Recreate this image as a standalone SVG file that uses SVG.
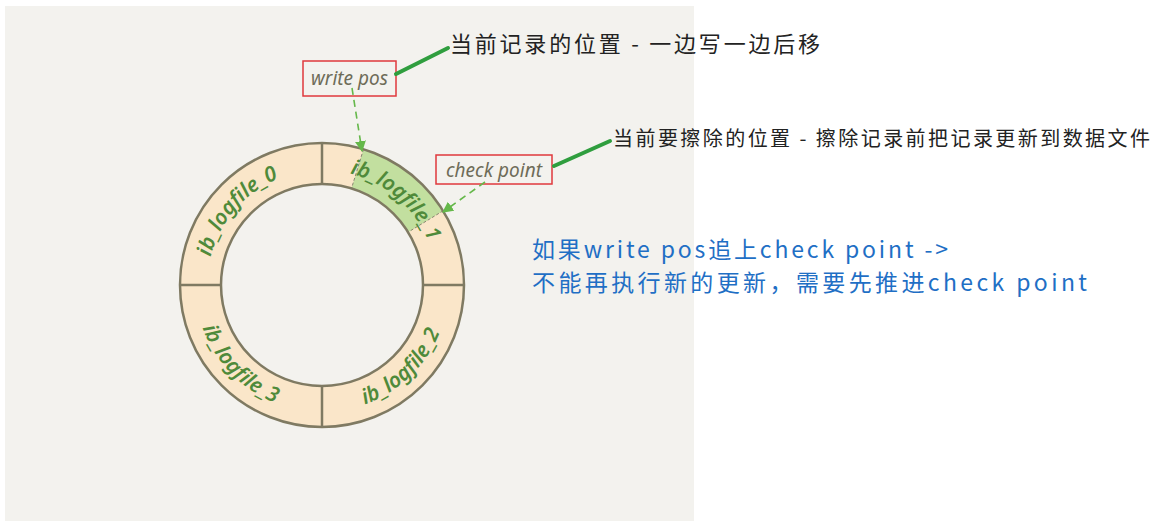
<svg xmlns="http://www.w3.org/2000/svg" width="1173" height="526" viewBox="0 0 1173 526">
<style>
.lbl{font-family:"Noto Sans","DejaVu Sans",sans-serif;font-size:21px;font-weight:600;fill:#4f8a3a;font-style:italic}
.box{fill:none;stroke:#e0393c;stroke-width:1.5}
.boxtxt{font-family:"Noto Sans","DejaVu Sans",sans-serif;font-size:19px;fill:#6e6c58;font-style:italic}
.note{font-family:"Noto Sans CJK SC","Noto Sans",sans-serif;fill:#222}
.blue{font-family:"Noto Sans CJK SC","Noto Sans",sans-serif;font-size:23px;fill:#1f6fc5}
.lead{stroke:#2f9e3e;stroke-width:4;stroke-linecap:round;fill:none}
.dash{stroke:#65b84a;stroke-width:1.6;stroke-dasharray:7 5;fill:none}
.ring{stroke:#7f7a62;stroke-width:2.5}
</style>
<defs>
<marker id="ah" viewBox="0 0 10 10" refX="9" refY="5" markerWidth="11" markerHeight="11" markerUnits="userSpaceOnUse" orient="auto">
<path d="M0,0 L10,5 L0,10 Z" fill="#65b84a"/>
</marker>
<path id="p0" d="M213.3,322.4 A115 115 0 0 1 343.9,172.1"/>
<path id="p1" d="M284.6,176.3 A115 115 0 0 1 434.9,306.9"/>
<path id="p2" d="M287.0,407.1 A127 127 0 0 0 445.2,254.3"/>
<path id="p3" d="M199.9,250.0 A127 127 0 0 0 352.7,408.2"/>
</defs>
<rect x="0" y="0" width="1173" height="526" fill="#ffffff"/>
<rect x="5" y="6" width="689" height="515" fill="#f3f2ee"/>
<g id="ring">
<path d="M180,285 A142 142 0 1 1 464,285 A142 142 0 1 1 180,285 Z M221,285 A101 101 0 1 0 423,285 A101 101 0 1 0 221,285 Z" fill="#fae6c9" fill-rule="evenodd"/>
<path d="M363.5,149.2 A142 142 0 0 1 443.1,210.8 L408.1,232.2 A101 101 0 0 0 351.5,188.4 Z" fill="#c2df9f"/>
<line x1="363.5" y1="149.2" x2="351.5" y2="188.4" stroke="#8a8670" stroke-width="1" stroke-dasharray="3 2"/>
<line x1="443.1" y1="210.8" x2="408.1" y2="232.2" stroke="#8a8670" stroke-width="1" stroke-dasharray="3 2"/>
<circle cx="322" cy="285" r="142" fill="none" class="ring"/>
<circle cx="322" cy="285" r="101" fill="none" class="ring"/>
<line x1="322" y1="143" x2="322" y2="184" class="ring" stroke-width="1.5"/>
<line x1="322" y1="386" x2="322" y2="427" class="ring" stroke-width="1.5"/>
<line x1="180" y1="285" x2="221" y2="285" class="ring" stroke-width="1.5"/>
<line x1="423" y1="285" x2="464" y2="285" class="ring" stroke-width="1.5"/>
</g>
<g id="logfile0"><text class="lbl"><textPath href="#p0" startOffset="50%" text-anchor="middle">ib_logfile_0</textPath></text></g>
<g id="logfile1"><text class="lbl"><textPath href="#p1" startOffset="50%" text-anchor="middle">ib_logfile_1</textPath></text></g>
<g id="logfile2"><text class="lbl"><textPath href="#p2" startOffset="50%" text-anchor="middle">ib_logfile_2</textPath></text></g>
<g id="logfile3"><text class="lbl"><textPath href="#p3" startOffset="50%" text-anchor="middle">ib_logfile_3</textPath></text></g>
<g id="writepos">
<rect x="303" y="61" width="93" height="35" class="box"/>
<text x="349.5" y="85" class="boxtxt" text-anchor="middle">write pos</text>
</g>
<g id="checkpoint">
<rect x="436" y="155" width="116" height="29" class="box"/>
<text x="494" y="177" class="boxtxt" text-anchor="middle" font-size="20">check point</text>
</g>
<g id="note1"><text x="450" y="52" class="note" font-size="22" textLength="370" lengthAdjust="spacing">当前记录的位置 - 一边写一边后移</text></g>
<g id="note2"><text x="613" y="146" class="note" font-size="20" textLength="537" lengthAdjust="spacing">当前要擦除的位置 - 擦除记录前把记录更新到数据文件</text></g>
<g id="note3">
<text x="532" y="258" class="blue" textLength="416" lengthAdjust="spacing">如果write pos追上check point -&gt;</text>
<text x="532" y="291" class="blue" textLength="555" lengthAdjust="spacing">不能再执行新的更新，需要先推进check point</text>
</g>
<g id="connectors">
<line x1="396" y1="74" x2="448" y2="48" class="lead"/>
<line x1="554" y1="166" x2="610" y2="141" class="lead"/>
<line x1="352" y1="88" x2="362" y2="151" class="dash" marker-end="url(#ah)"/>
<line x1="485" y1="182" x2="443" y2="212" class="dash" marker-end="url(#ah)"/>
</g>
</svg>
